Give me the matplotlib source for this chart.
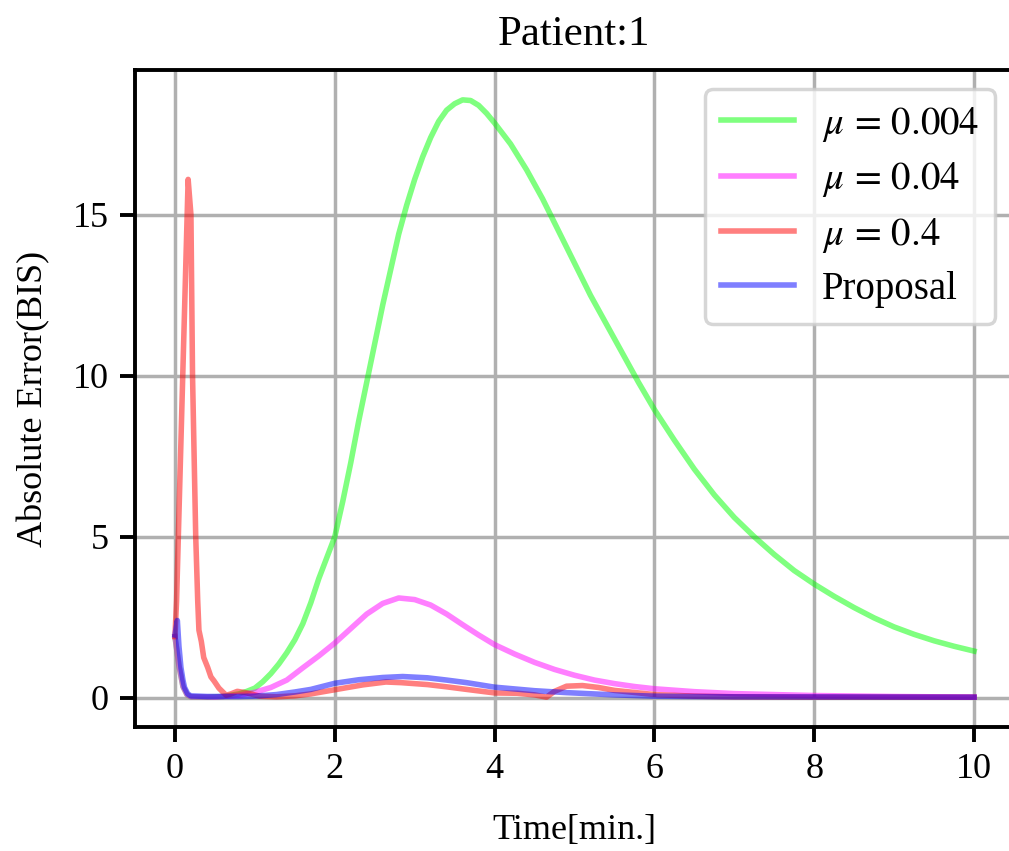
import matplotlib
matplotlib.use("Agg")
import matplotlib.pyplot as plt

plt.rcParams['font.family'] = 'serif'
plt.rcParams['font.serif'] = ['Liberation Serif', 'DejaVu Serif']
plt.rcParams['mathtext.fontset'] = 'stix'

# ---- data ----
t_green = [0.0, 0.05, 0.1, 0.15, 0.2, 0.4, 0.6, 0.8, 0.9, 1.0, 1.1, 1.2, 1.3, 1.4, 1.5,
           1.6, 1.7, 1.8, 1.9, 2.0, 2.1, 2.2, 2.3, 2.4, 2.5, 2.6, 2.7, 2.8, 2.9, 3.0,
           3.1, 3.2, 3.3, 3.4, 3.5, 3.6, 3.7, 3.8, 3.9, 4.0, 4.2, 4.4, 4.6, 4.8, 5.0,
           5.2, 5.4, 5.6, 5.8, 6.0, 6.25, 6.5, 6.75, 7.0, 7.25, 7.5, 7.75, 8.0, 8.25,
           8.5, 8.75, 9.0, 9.25, 9.5, 9.75, 10.0]
e_green = [1.9, 1.0, 0.35, 0.1, 0.03, 0.02, 0.04, 0.12, 0.2, 0.3, 0.5, 0.75, 1.05, 1.4, 1.8,
           2.3, 2.95, 3.7, 4.35, 5.0, 6.1, 7.3, 8.6, 9.8, 11.0, 12.2, 13.3, 14.4, 15.3, 16.1,
           16.8, 17.4, 17.9, 18.25, 18.45, 18.57, 18.55, 18.4, 18.15, 17.85, 17.2, 16.4, 15.5, 14.5, 13.5,
           12.5, 11.6, 10.7, 9.8, 8.95, 8.0, 7.1, 6.3, 5.6, 5.0, 4.45, 3.95, 3.53, 3.15,
           2.8, 2.48, 2.2, 1.97, 1.77, 1.6, 1.45]

t_mag = [0.0, 0.05, 0.1, 0.15, 0.2, 0.5, 0.8, 1.0, 1.2, 1.4, 1.6, 1.8, 2.0, 2.2, 2.4,
         2.6, 2.8, 3.0, 3.2, 3.4, 3.6, 3.8, 4.0, 4.25, 4.5, 4.75, 5.0, 5.25, 5.5, 5.75,
         6.0, 6.5, 7.0, 7.5, 8.0, 9.0, 10.0]
e_mag = [1.9, 1.0, 0.35, 0.1, 0.03, 0.02, 0.08, 0.17, 0.32, 0.55, 0.93, 1.3, 1.7, 2.15, 2.6,
         2.93, 3.1, 3.05, 2.88, 2.6, 2.27, 1.95, 1.65, 1.36, 1.1, 0.88, 0.7, 0.55, 0.44, 0.35,
         0.28, 0.19, 0.13, 0.1, 0.07, 0.04, 0.02]

t_red = [0.0, 0.02, 0.165, 0.2, 0.22, 0.26, 0.285, 0.3, 0.33, 0.36, 0.41, 0.45, 0.49,
         0.55, 0.64, 0.7, 0.78, 0.9, 1.06, 1.27, 1.5, 1.7, 2.0, 2.35, 2.64, 2.83,
         3.16, 3.4, 3.65, 4.0, 4.28, 4.5, 4.65, 4.75, 4.9, 5.1, 5.3, 5.5, 6.0, 6.5,
         7.0, 8.0, 10.0]
e_red = [1.9, 3.0, 16.1, 15.0, 10.0, 5.0, 3.0, 2.1, 1.75, 1.25, 0.94, 0.65, 0.52,
         0.3, 0.08, 0.12, 0.2, 0.15, 0.05, 0.03, 0.06, 0.12, 0.25, 0.4, 0.49, 0.47,
         0.41, 0.34, 0.26, 0.15, 0.14, 0.09, 0.02, 0.2, 0.36, 0.38, 0.32, 0.23, 0.1, 0.05,
         0.03, 0.02, 0.02]

t_prop = [0.0, 0.03, 0.05, 0.075, 0.1, 0.12, 0.16, 0.2, 0.4, 0.8, 1.0, 1.27, 1.5, 1.7,
          2.0, 2.3, 2.6, 2.85, 3.16, 3.4, 3.65, 4.0, 4.5, 4.9, 5.5, 6.0, 7.0, 10.0]
e_prop = [1.95, 2.4, 1.6, 0.94, 0.55, 0.32, 0.12, 0.06, 0.04, 0.04, 0.05, 0.1, 0.18, 0.26,
          0.45, 0.56, 0.63, 0.66, 0.62, 0.55, 0.47, 0.33, 0.22, 0.16, 0.09, 0.05, 0.03, 0.02]

labels = [r'$\mu\,=\,0.004$', r'$\mu\,=\,0.04$', r'$\mu\,=\,0.4$', 'Proposal']
colors = ['lime', 'magenta', 'red', 'blue']

fig = plt.figure(figsize=(10.09, 8.51), dpi=100)
ax = fig.add_axes([135 / 1009, 124 / 851, 879 / 1009, 657 / 851])

series = [(t_green, e_green), (t_mag, e_mag), (t_red, e_red), (t_prop, e_prop)]
for (t, e), lab, c in zip(series, labels, colors):
    ax.plot(t, e, color=c, alpha=0.5, lw=4.0, label=lab)

ax.set_xticks([0, 2, 4, 6, 8, 10])
ax.set_yticks([0, 5, 10, 15])
ax.grid(True, color='#b0b0b0', lw=2.5)
ax.set_axisbelow(True)
for s in ax.spines.values():
    s.set_linewidth(2.8)
ax.tick_params(axis='both', labelsize=26, length=11, width=2.8, pad=8)

ax.set_xlabel('Time[min.]', fontsize=26, labelpad=20)
ax.set_ylabel('Absolute Error(BIS)', fontsize=26, labelpad=16)
ax.set_title('Patient:1', fontsize=31, pad=18)

leg = ax.legend(loc='upper right', fontsize=28, handlelength=1.9, handletextpad=0.7,
                framealpha=0.8, labelspacing=0.42)
leg.get_frame().set_linewidth(2.5)

fig.savefig('out.png', dpi=100)
